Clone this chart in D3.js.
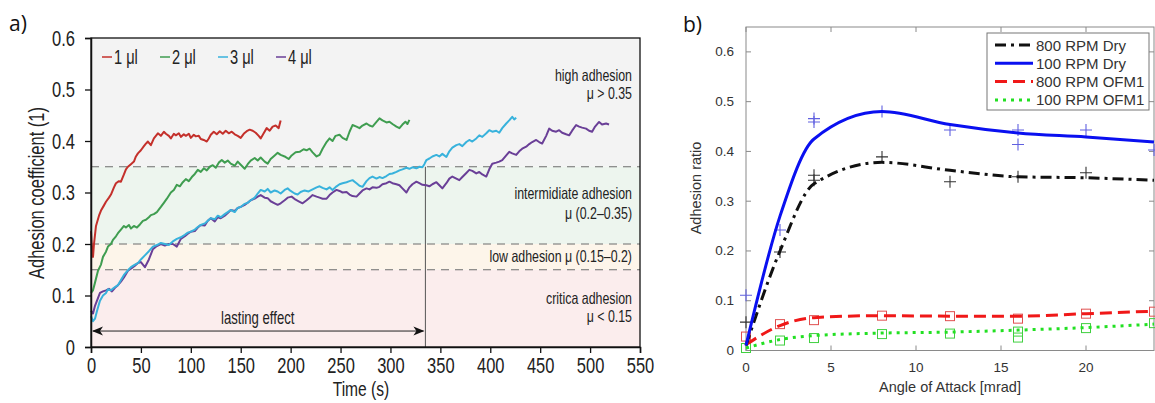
<!DOCTYPE html>
<html><head><meta charset="utf-8">
<script src="https://cdn.jsdelivr.net/npm/d3@7"></script>
<style>body{margin:0;background:#fff}svg{display:block}</style>
</head><body>
<svg id="c" width="1155" height="403"></svg>
<script>
// ---------- Panel a data (time s, adhesion coefficient) ----------
const seriesNamesA = ["1 μl","2 μl","3 μl","4 μl"];
const seriesColorsA = ["#c4302b","#3f9d50","#38b2dc","#6a3f97"];
const xTicksA = [0,50,100,150,200,250,300,350,400,450,500,550];
const yTicksA = [0,0.1,0.2,0.3,0.4,0.5,0.6];
const thresholds = [0.15,0.2,0.35];
const lastingEffectEnd = 335;
const red1 = [[0,0.225],[1,0.19],[2,0.175],[3,0.2],[5,0.235],[8,0.255],[10,0.265],[13,0.275],[15,0.282],[18,0.29],[20,0.296],[23,0.31],[25,0.318],[28,0.322],[30,0.321],[33,0.335],[35,0.345],[37,0.35],[40,0.355],[43,0.36],[45,0.37],[47,0.376],[50,0.382],[53,0.39],[55,0.395],[57,0.399],[60,0.392],[63,0.405],[65,0.41],[67,0.415],[70,0.41],[73,0.418],[75,0.414],[78,0.41],[80,0.405],[83,0.414],[85,0.411],[88,0.415],[90,0.408],[93,0.413],[95,0.41],[98,0.414],[100,0.406],[103,0.412],[105,0.409],[108,0.41],[110,0.404],[113,0.402],[116,0.399],[118,0.405],[120,0.412],[123,0.418],[126,0.413],[129,0.419],[132,0.414],[135,0.42],[138,0.415],[141,0.418],[144,0.413],[147,0.41],[150,0.406],[153,0.414],[156,0.419],[159,0.422],[162,0.42],[165,0.416],[168,0.41],[170,0.405],[173,0.415],[176,0.425],[179,0.42],[182,0.428],[185,0.43],[188,0.425],[190,0.44]];
const green2 = [[0,0.105],[2,0.11],[4,0.125],[7,0.148],[10,0.16],[12,0.175],[15,0.185],[17,0.195],[20,0.2],[22,0.208],[25,0.215],[27,0.221],[30,0.228],[33,0.235],[35,0.232],[38,0.237],[40,0.23],[43,0.235],[46,0.232],[49,0.238],[52,0.245],[55,0.247],[58,0.252],[60,0.256],[63,0.258],[66,0.262],[70,0.272],[73,0.28],[76,0.288],[80,0.3],[83,0.305],[86,0.315],[89,0.312],[92,0.32],[95,0.326],[98,0.322],[101,0.33],[104,0.336],[107,0.344],[110,0.34],[113,0.347],[116,0.343],[119,0.35],[122,0.353],[125,0.348],[128,0.358],[131,0.363],[134,0.358],[137,0.362],[140,0.356],[144,0.352],[147,0.36],[150,0.354],[154,0.346],[157,0.355],[160,0.362],[164,0.367],[167,0.362],[170,0.368],[174,0.36],[177,0.356],[180,0.365],[184,0.372],[187,0.377],[190,0.373],[194,0.37],[198,0.365],[201,0.372],[205,0.378],[209,0.379],[213,0.384],[216,0.382],[219,0.385],[222,0.378],[226,0.37],[229,0.373],[232,0.385],[236,0.398],[239,0.405],[242,0.4],[245,0.41],[249,0.412],[252,0.406],[256,0.402],[259,0.418],[262,0.431],[266,0.428],[269,0.425],[272,0.43],[276,0.434],[279,0.43],[282,0.428],[286,0.437],[289,0.444],[292,0.44],[296,0.436],[299,0.4375],[302,0.433],[306,0.428],[309,0.425],[312,0.432],[315,0.4375],[317,0.433],[319,0.441]];
const cyan3 = [[0,0.06],[2,0.05],[4,0.055],[6,0.07],[9,0.09],[12,0.1],[15,0.105],[17,0.112],[20,0.11],[23,0.115],[27,0.12],[30,0.13],[33,0.14],[37,0.149],[40,0.155],[44,0.16],[47,0.163],[50,0.17],[54,0.178],[58,0.186],[62,0.195],[66,0.198],[70,0.202],[74,0.2],[78,0.198],[82,0.205],[86,0.21],[90,0.213],[94,0.218],[97,0.222],[100,0.224],[104,0.228],[107,0.233],[110,0.237],[114,0.24],[117,0.245],[120,0.25],[124,0.248],[127,0.255],[130,0.252],[134,0.258],[137,0.262],[140,0.266],[144,0.262],[147,0.27],[150,0.272],[154,0.278],[157,0.28],[160,0.285],[164,0.29],[167,0.298],[170,0.305],[174,0.302],[177,0.307],[180,0.3],[184,0.304],[187,0.302],[190,0.298],[194,0.305],[197,0.308],[200,0.303],[204,0.298],[207,0.296],[210,0.301],[214,0.304],[218,0.302],[222,0.306],[226,0.31],[229,0.312],[232,0.309],[236,0.306],[239,0.31],[242,0.305],[246,0.312],[249,0.316],[252,0.318],[256,0.32],[259,0.322],[262,0.324],[266,0.318],[269,0.313],[272,0.311],[276,0.322],[279,0.328],[282,0.331],[286,0.327],[289,0.33],[292,0.328],[296,0.332],[299,0.336],[302,0.337],[306,0.34],[309,0.343],[312,0.345],[316,0.348],[319,0.346],[322,0.349],[326,0.347],[329,0.35],[332,0.349],[334,0.355],[336,0.363],[339,0.366],[342,0.37],[346,0.373],[349,0.37],[352,0.375],[356,0.369],[359,0.38],[362,0.387],[366,0.392],[369,0.394],[372,0.39],[376,0.398],[379,0.402],[382,0.399],[386,0.405],[389,0.411],[392,0.408],[396,0.415],[399,0.421],[402,0.418],[406,0.42],[409,0.416],[412,0.425],[416,0.434],[419,0.44],[422,0.447],[424,0.442],[426,0.445]];
const purple4 = [[0,0.07],[2,0.065],[4,0.08],[6,0.09],[9,0.105],[12,0.108],[15,0.11],[18,0.113],[21,0.108],[24,0.115],[27,0.12],[30,0.127],[33,0.135],[37,0.148],[40,0.152],[44,0.158],[47,0.163],[50,0.165],[54,0.155],[58,0.17],[62,0.19],[66,0.196],[70,0.2],[74,0.197],[78,0.2],[82,0.2],[86,0.195],[90,0.21],[94,0.215],[97,0.22],[100,0.224],[104,0.225],[107,0.232],[110,0.237],[114,0.236],[117,0.245],[120,0.25],[124,0.244],[127,0.252],[130,0.25],[134,0.255],[137,0.26],[140,0.266],[144,0.264],[147,0.27],[150,0.272],[154,0.276],[157,0.28],[160,0.285],[164,0.288],[167,0.292],[170,0.295],[174,0.29],[177,0.289],[180,0.283],[184,0.279],[187,0.276],[190,0.279],[194,0.285],[197,0.29],[201,0.292],[205,0.286],[209,0.282],[212,0.279],[216,0.285],[219,0.29],[222,0.295],[226,0.292],[229,0.29],[232,0.288],[236,0.288],[239,0.295],[242,0.3],[246,0.305],[249,0.303],[252,0.3],[256,0.301],[259,0.296],[262,0.293],[266,0.292],[269,0.298],[272,0.304],[276,0.308],[279,0.306],[282,0.31],[286,0.309],[289,0.311],[292,0.316],[296,0.318],[299,0.321],[302,0.318],[306,0.316],[309,0.314],[312,0.308],[316,0.3],[319,0.31],[322,0.316],[326,0.321],[329,0.318],[332,0.315],[336,0.314],[339,0.312],[342,0.316],[346,0.32],[349,0.314],[352,0.308],[356,0.318],[359,0.327],[362,0.331],[366,0.327],[369,0.324],[372,0.33],[376,0.338],[379,0.344],[382,0.342],[386,0.337],[389,0.34],[392,0.335],[396,0.331],[399,0.345],[402,0.356],[406,0.358],[409,0.36],[412,0.363],[416,0.372],[419,0.379],[422,0.376],[426,0.373],[429,0.38],[432,0.385],[436,0.389],[439,0.394],[442,0.398],[446,0.402],[449,0.398],[452,0.395],[456,0.41],[459,0.424],[462,0.42],[466,0.418],[469,0.421],[472,0.416],[476,0.413],[479,0.411],[482,0.42],[486,0.431],[489,0.428],[492,0.426],[496,0.424],[499,0.42],[502,0.418],[505,0.428],[509,0.437],[512,0.432],[516,0.434],[519,0.432]];

// ---------- Panel b data (angle mrad, adhesion ratio) ----------
const seriesNamesB = ["800 RPM Dry","100 RPM Dry","800 RPM OFM1","100 RPM OFM1"];
const seriesColorsB = ["#111111","#0a10f0","#f01818","#22e022"];
const markerColorsB = ["#333333","#6060e0","#e05050","#40d040"];
const xTicksB = [0,5,10,15,20];
const yTicksB = [0,0.1,0.2,0.3,0.4,0.5,0.6];
const fitAngles = [0,2,4,8,12,16,20,24];
const dry800Fit = [0.01,0.2,0.335,0.378,0.362,0.349,0.347,0.342];
const dry100Fit = [0.01,0.27,0.425,0.48,0.454,0.437,0.429,0.419];
const ofm800Fit = [0.012,0.05,0.066,0.07,0.069,0.069,0.074,0.079];
const ofm100Fit = [0.005,0.022,0.03,0.035,0.037,0.041,0.046,0.053];
const dry800Pts = [[0,0.057],[2,0.198],[4,0.352],[4,0.342],[8,0.389],[12,0.339],[16,0.349],[20,0.357]];
const dry100Pts = [[0,0.111],[2,0.242],[4,0.466],[4,0.459],[8,0.48],[12,0.443],[16,0.443],[16,0.414],[20,0.443],[24,0.403]];
const ofm800Pts = [[0,0.028],[2,0.053],[4,0.061],[8,0.07],[12,0.069],[16,0.064],[20,0.074],[24,0.078]];
const ofm100Pts = [[0,0.005],[2,0.02],[4,0.025],[8,0.033],[12,0.034],[16,0.038],[16,0.026],[20,0.045],[24,0.055]];

const svg = d3.select("#c");
const FA = "'Liberation Sans',Arial,sans-serif";
const FB = "'Liberation Sans',Arial,Helvetica,sans-serif";
const SX = 0.75; // horizontal condensing of panel a lettering

function ctext(g, x, y, str, size, anchor, rot, sx){
  return g.append("text")
    .attr("transform", `translate(${x},${y})${rot?` rotate(${rot})`:""} scale(${sx||SX},1)`)
    .attr("text-anchor", anchor || "start")
    .attr("font-family", FA).attr("font-size", size).attr("fill", "#222").text(str);
}

// ================= PANEL A =================
const xA = d3.scaleLinear().domain([0,550]).range([91,640]);
const yA = d3.scaleLinear().domain([0,0.6]).range([347,38]);
const gA = svg.append("g");

const bands = [
  {lo:thresholds[2], hi:0.6, c:"#f3f3f3"},
  {lo:thresholds[1], hi:thresholds[2], c:"#edf5ee"},
  {lo:thresholds[0], hi:thresholds[1], c:"#fdf5ea"},
  {lo:0, hi:thresholds[0], c:"#fbeded"}
];
gA.selectAll("rect.band").data(bands).join("rect")
  .attr("x", xA(0)).attr("width", xA(550)-xA(0))
  .attr("y", d=>yA(d.hi)).attr("height", d=>yA(d.lo)-yA(d.hi))
  .attr("fill", d=>d.c);

gA.selectAll("line.thr").data(thresholds).join("line")
  .attr("x1", xA(0)).attr("x2", xA(550))
  .attr("y1", d=>yA(d)).attr("y2", d=>yA(d))
  .attr("stroke","#6d6d6d").attr("stroke-width",1).attr("stroke-dasharray","8,6");

gA.append("line").attr("x1",xA(lastingEffectEnd)).attr("x2",xA(lastingEffectEnd))
  .attr("y1",yA(0)).attr("y2",yA(0.35)).attr("stroke","#555").attr("stroke-width",1);

const lineA = d3.line().x(d=>xA(d[0])).y(d=>yA(d[1]));
const allA = [red1, green2, cyan3, purple4];
[3,2,1,0].forEach(i=>{
  gA.append("path").datum(allA[i]).attr("d",lineA)
    .attr("fill","none").attr("stroke",seriesColorsA[i]).attr("stroke-width",2)
    .attr("stroke-linejoin","round");
});

// lasting effect arrow
const ay = yA(0.031);
gA.append("line").attr("x1",xA(0)+2).attr("x2",xA(lastingEffectEnd)-2).attr("y1",ay).attr("y2",ay)
  .attr("stroke","#222").attr("stroke-width",1);
function head(x,dir){
  return `M${x},${ay} L${x-dir*11},${ay-4.5} L${x-dir*8},${ay} L${x-dir*11},${ay+4.5} Z`;
}
gA.append("path").attr("d",head(xA(0)+1,-1)).attr("fill","#111");
gA.append("path").attr("d",head(xA(lastingEffectEnd)-1,1)).attr("fill","#111");
ctext(gA, xA(167), ay-7, "lasting effect", 17.5, "middle");

const regionLabels = [
  {t:"high adhesion", y:81}, {t:"μ > 0.35", y:99},
  {t:"intermidiate adhesion", y:199}, {t:"μ (0.2–0.35)", y:219},
  {t:"low adhesion μ (0.15–0.2)", y:262},
  {t:"critica adhesion", y:304}, {t:"μ < 0.15", y:322}
];
regionLabels.forEach(d=> ctext(gA, 632, d.y, d.t, 16.5, "end"));

gA.append("rect").attr("x",xA(0)).attr("y",yA(0.6)).attr("width",xA(550)-xA(0)).attr("height",yA(0)-yA(0.6))
  .attr("fill","none").attr("stroke","#111").attr("stroke-width",1.3);

const axL = d3.axisLeft(yA).tickValues(yTicksA).tickSize(6)
  .tickFormat(d=> d===0 ? "0" : d3.format(".1f")(d));
const gL = gA.append("g").attr("transform",`translate(${xA(0)},0)`).call(axL);
const axB = d3.axisBottom(xA).tickValues(xTicksA).tickSize(6).tickPadding(4).tickFormat(d3.format("d"));
const gBt = gA.append("g").attr("transform",`translate(0,${yA(0)})`).call(axB);
[gL,gBt].forEach(g=>{
  g.select(".domain").attr("stroke","#111").attr("stroke-width",1.5);
  g.selectAll(".tick line").attr("stroke","#111").attr("stroke-width",1.3);
  g.selectAll("text").attr("font-family",FA).attr("font-size",22).attr("fill","#222")
    .attr("transform",`scale(${SX},1)`);
});
gL.selectAll("text").attr("x", -16/SX);

ctext(gA, 361, 396, "Time (s)", 19.5, "middle", 0, 0.8);
ctext(gA, 44, 193, "Adhesion coefficient (1)", 22, "middle", -90);

seriesNamesA.forEach((n,i)=>{
  const lx = 102 + i*58;
  gA.append("line").attr("x1",lx).attr("x2",lx+10).attr("y1",57).attr("y2",57)
    .attr("stroke",seriesColorsA[i]).attr("stroke-width",1.5);
  ctext(gA, lx+12, 63.5, n, 19.5, "start");
});

svg.append("text").attr("x",9).attr("y",31).attr("font-family","'Open Sans',sans-serif").attr("font-size",21).attr("fill","#111").text("a)");

// ================= PANEL B =================
const xB = d3.scaleLinear().domain([0,24]).range([746,1154]);
const yB = d3.scaleLinear().domain([0,0.65]).range([350.5,27]);
const gB = svg.append("g");
svg.append("defs").append("clipPath").attr("id","clipB").append("rect")
  .attr("x",xB(0)-6).attr("y",yB(0.65)).attr("width",xB(24)-xB(0)+12).attr("height",yB(0)-yB(0.65)+6);

gB.append("rect").attr("x",xB(0)).attr("y",yB(0.65)).attr("width",xB(24)-xB(0)).attr("height",yB(0)-yB(0.65))
  .attr("fill","#fff").attr("stroke","#8a8a8a").attr("stroke-width",1);
const tl = 5;
gB.selectAll("line.xt").data(xTicksB).join("line")
  .attr("x1",d=>xB(d)).attr("x2",d=>xB(d)).attr("y1",yB(0)).attr("y2",yB(0)-tl).attr("stroke","#8a8a8a");
gB.selectAll("line.xt2").data(xTicksB).join("line")
  .attr("x1",d=>xB(d)).attr("x2",d=>xB(d)).attr("y1",yB(0.65)).attr("y2",yB(0.65)+tl).attr("stroke","#8a8a8a");
gB.selectAll("line.yt").data(yTicksB).join("line")
  .attr("x1",xB(0)).attr("x2",xB(0)+tl).attr("y1",d=>yB(d)).attr("y2",d=>yB(d)).attr("stroke","#8a8a8a");
gB.selectAll("line.yt2").data(yTicksB).join("line")
  .attr("x1",xB(24)).attr("x2",xB(24)-tl).attr("y1",d=>yB(d)).attr("y2",d=>yB(d)).attr("stroke","#8a8a8a");
gB.selectAll("text.xl").data(xTicksB).join("text")
  .attr("x",d=>xB(d)).attr("y",372).attr("text-anchor","middle")
  .attr("font-family",FB).attr("font-size",13.5).attr("fill","#333").text(d=>d);
gB.selectAll("text.yl").data(yTicksB).join("text")
  .attr("x",734).attr("y",d=>yB(d)+4.5).attr("text-anchor","end")
  .attr("font-family",FB).attr("font-size",13.5).attr("fill","#333").text(d=>d===0?"0":d3.format(".1f")(d));
gB.append("text").attr("x",xB(12)).attr("y",392).attr("text-anchor","middle")
  .attr("font-family",FB).attr("font-size",14.5).attr("fill","#333").text("Angle of Attack [mrad]");
gB.append("text").attr("transform","translate(701,188) rotate(-90)").attr("text-anchor","middle")
  .attr("font-family",FB).attr("font-size",14.5).attr("fill","#333").text("Adhesion ratio");

const plotB = gB.append("g").attr("clip-path","url(#clipB)");
const fits = [dry800Fit, dry100Fit, ofm800Fit, ofm100Fit];
const pts = [dry800Pts, dry100Pts, ofm800Pts, ofm100Pts];
const dashes = ["11,5,3,5", null, "12,6", "3,5"];
const lineB = d3.line().x(d=>xB(d[0])).y(d=>yB(d[1])).curve(d3.curveMonotoneX);

[0,1].forEach(i=>{
  plotB.selectAll(null).data(pts[i]).join("path")
    .attr("d",d=>`M${xB(d[0])-6},${yB(d[1])}h12M${xB(d[0])},${yB(d[1])-6}v12`)
    .attr("stroke",markerColorsB[i]).attr("stroke-width",1.1).attr("fill","none");
});
[2,3].forEach(i=>{
  plotB.selectAll(null).data(pts[i]).join("rect")
    .attr("x",d=>xB(d[0])-4.5).attr("y",d=>yB(d[1])-4.5).attr("width",9).attr("height",9)
    .attr("stroke",markerColorsB[i]).attr("stroke-width",1).attr("fill","none");
});
[3,2,0,1].forEach(i=>{
  plotB.append("path").datum(fitAngles.map((a,k)=>[a,fits[i][k]])).attr("d",lineB)
    .attr("fill","none").attr("stroke",seriesColorsB[i]).attr("stroke-width",3)
    .attr("stroke-dasharray",dashes[i]);
});

gB.append("rect").attr("x",987).attr("y",33).attr("width",162).attr("height",77)
  .attr("fill","#fff").attr("stroke","#777").attr("stroke-width",1);
seriesNamesB.forEach((n,i)=>{
  const ly = 45 + i*18.3;
  gB.append("line").attr("x1",995).attr("x2",1033).attr("y1",ly).attr("y2",ly)
    .attr("stroke",seriesColorsB[i]).attr("stroke-width",3).attr("stroke-dasharray",dashes[i]);
  gB.append("text").attr("x",1036).attr("y",ly+5.5).attr("font-family",FB).attr("font-size",15)
    .attr("fill","#333").text(n);
});

svg.append("text").attr("x",683).attr("y",32).attr("font-family","'Open Sans',sans-serif").attr("font-size",21).attr("fill","#111").text("b)");
</script>
</body></html>
